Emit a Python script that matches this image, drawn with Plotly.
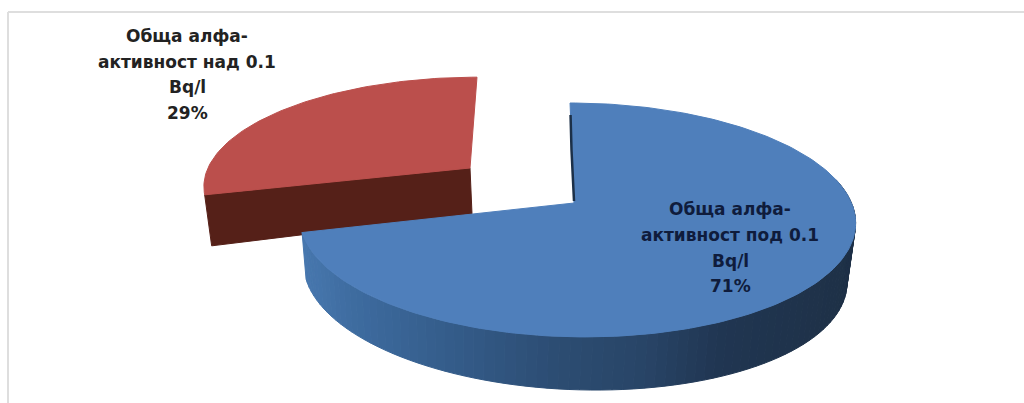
import numpy as np
import plotly.graph_objects as go

categories = ["Обща алфа-активност под 0.1 Bq/l", "Обща алфа-активност над 0.1 Bq/l"]
shares = [71, 29]
label_lines = [
    ["Обща алфа-", "активност под 0.1", "Bq/l"],
    ["Обща алфа-", "активност над 0.1", "Bq/l"],
]

K = 0.145

def rim(theta, cx, cy, rx, ry, shear):
    u, v = np.sin(theta), np.cos(theta)
    w = 1 + K * v
    return cx + (rx * u - shear * v) / w, cy - ry * v / w

def blend(stops, t):
    xs = [s[0] for s in stops]
    ch = [np.interp(t, xs, [s[1][i] for s in stops]) for i in range(3)]
    return "rgb(%d,%d,%d)" % tuple(int(round(c)) for c in ch)

SIDE_STOPS = [
    (300, (72, 120, 175)), (350, (62, 108, 160)), (450, (52, 92, 138)),
    (560, (44, 76, 114)), (650, (40, 68, 102)), (720, (32, 54, 82)),
    (860, (30, 48, 70)),
]

fig = go.Figure()

def poly(x, y, fill, line=None, width=1):
    fig.add_trace(go.Scatter(
        x=list(x), y=list(y), mode="lines", fill="toself", fillcolor=fill,
        line=dict(color=line or fill, width=width), hoverinfo="skip", showlegend=False,
    ))

blue_end = 2 * np.pi * shares[0] / sum(shares)
red_start = blue_end

# red wedge (exploded), drawn first so the blue slice overlaps it
red_theta = np.linspace(red_start, 2 * np.pi, 80)
rx_, ry_ = rim(red_theta, 470, 168, 262, 104, -8)
lx, ly = rx_[0], ry_[0]
poly([470, lx, lx + 7, 472, 470], [168, ly, ly + 51, 214, 168], "#552018")
poly(np.r_[470, rx_, 470], np.r_[168, ry_, 168], "#bb4f4c")

# blue slice: outer side wall, in strips
BX, BY, BR, BS, SH = 576.5, 203, 275, 114.5, 7.4
side_theta = np.linspace(np.radians(78), blue_end, 91)
for a, b in zip(side_theta[:-1], side_theta[1:]):
    ts = np.array([a, b])
    xt, yt = rim(ts, BX, BY, BR, BS, SH)
    us = np.sin(ts)
    depth = 53 + 6.5 * us
    xb = xt - 6.5 * us - 2.3
    yb = yt + depth
    poly([xt[0], xt[1], xb[1], xb[0], xt[0]], [yt[0], yt[1], yb[1], yb[0], yt[0]],
         blend(SIDE_STOPS, float(xt.mean())))

# blue slice: top face
blue_theta = np.linspace(0, blue_end, 200)
bx, by = rim(blue_theta, BX, BY, BR, BS, SH)
poly(np.r_[574, bx, 574], np.r_[203, by, 203], "#4f7fbb")

# inner cut edge
fig.add_trace(go.Scatter(
    x=[bx[0] + 0.5, 571.5, 574], y=[by[0] + 12, 150, 201], mode="lines",
    line=dict(color="#1c3048", width=2.5), hoverinfo="skip", showlegend=False,
))

annotations = []
def label(lines, pct, xc, ys, color):
    for txt, y in zip(lines + [f"{pct}%"], ys):
        annotations.append(dict(
            x=xc, y=y, xref="x", yref="y", text=f"<b>{txt}</b>", showarrow=False,
            xanchor="center", yanchor="middle",
            font=dict(family="DejaVu Sans", size=17, color=color),
        ))
label(label_lines[0], shares[0], 730, [209, 235, 261, 286], "#0f1c3c")
label(label_lines[1], shares[1], 187, [36, 62, 87, 113], "#222222")

shapes = [
    dict(type="line", x0=8, x1=1024, y0=12, y1=12, line=dict(color="#dedede", width=2)),
    dict(type="line", x0=8, x1=8, y0=12, y1=403, line=dict(color="#dedede", width=2)),
]

fig.update_layout(
    width=1024, height=403, margin=dict(l=0, r=0, t=0, b=0),
    paper_bgcolor="white", plot_bgcolor="white", showlegend=False,
    xaxis=dict(range=[0, 1024], visible=False, fixedrange=True),
    yaxis=dict(range=[403, 0], visible=False, fixedrange=True),
    annotations=annotations, shapes=shapes,
)
fig.write_html("out.html", config=dict(displayModeBar=False),
               post_script="document.body.style.margin='0';document.documentElement.style.overflow='hidden';")
